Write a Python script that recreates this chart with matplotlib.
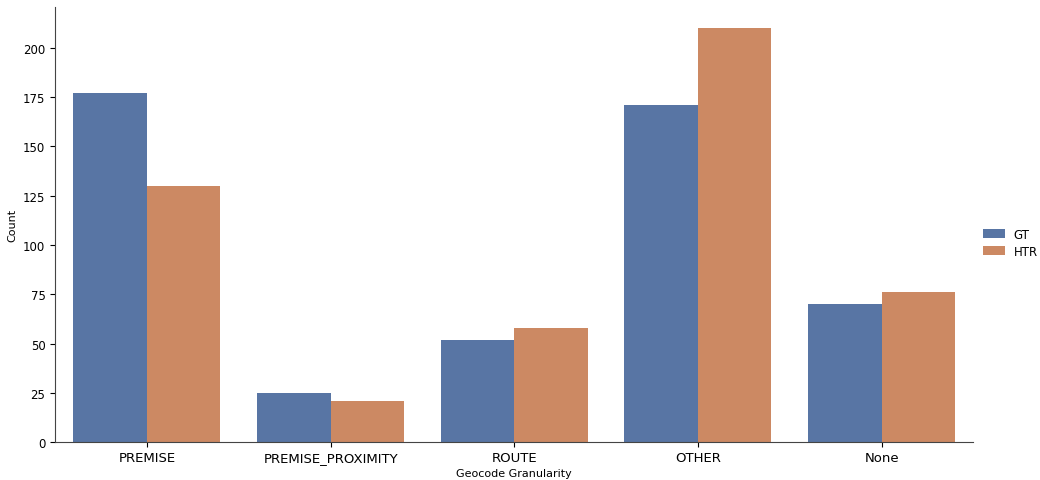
import matplotlib
matplotlib.use("Agg")
import matplotlib.pyplot as plt
import numpy as np

categories = ["PREMISE", "PREMISE_PROXIMITY", "ROUTE", "OTHER", "None"]
gt_counts = [177, 25, 52, 171, 70]
htr_counts = [130, 21, 58, 210, 76]
series_names = ["GT", "HTR"]
colors = ["#5875a4", "#cc8963"]

fig = plt.figure(figsize=(10.4, 4.81), dpi=100)
ax = fig.add_axes([0.053, 0.078, 0.883, 0.905])

x = np.arange(len(categories))
w = 0.4
for i, (name, vals) in enumerate(zip(series_names, [gt_counts, htr_counts])):
    ax.bar(x + (i - 0.5) * w, vals, width=w, color=colors[i], label=name)

ax.set_xlim(-0.5, len(categories) - 0.5)
ax.set_xticks(x, labels=categories, fontsize=9.5)
ax.set_yticks(np.arange(0, 201, 25))
ax.tick_params(axis="y", labelsize=8.5)
ax.tick_params(axis="x", pad=2.5)
ax.set_xlabel("Geocode Granularity", fontsize=8, labelpad=3)
ax.set_ylabel("Count", fontsize=8)
for side in ("top", "right"):
    ax.spines[side].set_visible(False)
for side in ("left", "bottom"):
    ax.spines[side].set_color("#444444")

fig.legend(loc="center left", bbox_to_anchor=(0.945, 0.493), frameon=False, fontsize=8.5,
           handlelength=1.9, handleheight=0.8, handletextpad=0.7, labelspacing=0.35,
           borderaxespad=0, borderpad=0)
fig.savefig("out.png", dpi=100)
